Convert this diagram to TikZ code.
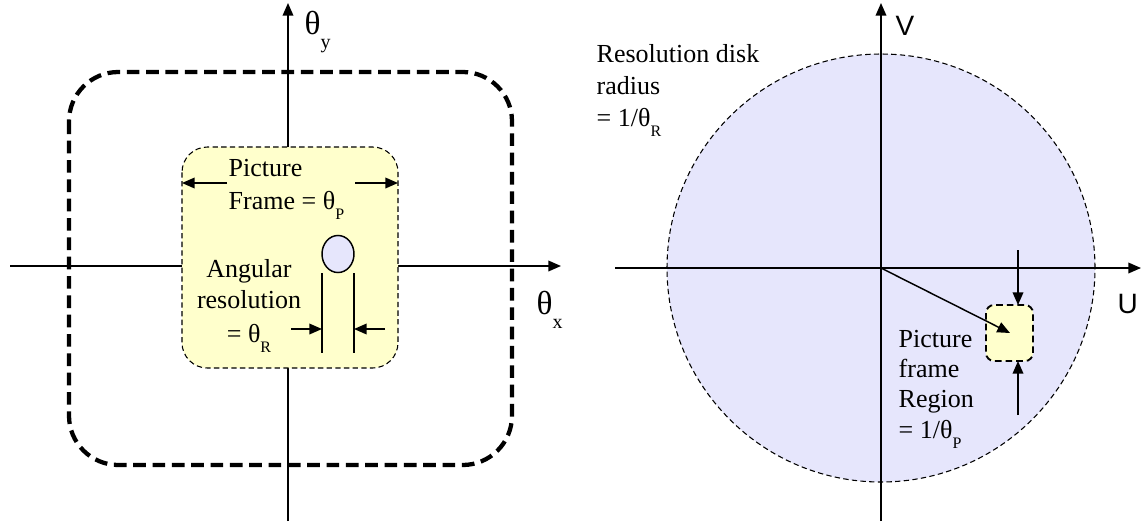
\documentclass[tikz,border=0pt]{standalone}
\usepackage{fontspec}
\setmainfont{Liberation Serif}
\newfontfamily\uvfont{Liberation Sans}
\usetikzlibrary{arrows.meta}
\definecolor{frameyellow}{RGB}{255,255,204}
\definecolor{disklav}{RGB}{230,230,252}
\newcommand{\lowsub}[1]{\raisebox{-0.4em}{\fontsize{12}{12}\selectfont #1}}

\begin{document}
\begin{tikzpicture}[x=0.75pt, y=-0.75pt, line width=1.1pt,
  >={Triangle[length=9.5pt,width=8pt]},
  txt/.style={inner sep=0pt, font=\fontsize{19.5}{25}\selectfont},
  bigth/.style={inner sep=0pt, anchor=base west, font=\fontsize{25}{25}\selectfont},
  uvtxt/.style={inner sep=0pt, anchor=base west, font=\uvfont\fontsize{21}{21}\selectfont},
  bigdash/.style={line width=3.2pt, dash pattern=on 9.5pt off 5pt},
  thindash/.style={line width=0.8pt, dash pattern=on 4pt off 2.5pt}]
\useasboundingbox (0,0) rectangle (1142,529);

% left: sky plane
\coordinate (xl) at (10,266); \coordinate (xr) at (561,266);
\coordinate (yb) at (288,521); \coordinate (yt) at (288,3);
\draw[->] (xl) -- (xr);
\draw[->] (yb) -- (yt);
\draw[bigdash, rounded corners=37pt] (69,72) rectangle (512,465);
\draw[thindash, fill=frameyellow, rounded corners=19pt] (182,147) rectangle (398,368);
\node[bigth] (thy) at (304,34) {θ\raisebox{-11pt}{\fontsize{15}{15}\selectfont y}};
\node[bigth] (thx) at (536,314) {θ\raisebox{-11pt}{\fontsize{15}{15}\selectfont x}};

% picture frame width
\coordinate (pfl) at (182,183); \coordinate (pfla) at (227,183);
\coordinate (pfr) at (398,183); \coordinate (pfra) at (355,183);
\draw[->] (pfla) -- (pfl);
\draw[->] (pfra) -- (pfr);
\node[txt, anchor=base west] (pic1) at (228,176) {Picture};
\node[txt, anchor=base west] (pic2) at (228,209) {Frame = θ\lowsub{P}};

% resolution element
\draw[fill=disklav] (338,254) ellipse [x radius=12pt, y radius=13.9pt];
\coordinate (rl1) at (322,273); \coordinate (rl2) at (322,353);
\coordinate (rr1) at (354,273); \coordinate (rr2) at (354,353);
\draw (rl1) -- (rl2);
\draw (rr1) -- (rr2);
\coordinate (ral) at (291,329); \coordinate (rar) at (385,329);
\draw[->] (ral) -- (rl1 |- ral);
\draw[->] (rar) -- (rr1 |- rar);
\node[txt, anchor=base] (ang1) at (249,277) {Angular};
\node[txt, anchor=base] (ang2) at (249,308) {resolution};
\node[txt, anchor=base] (ang3) at (249,342) {= θ\lowsub{R}};

% right: UV plane
\fill[disklav] (881,268) circle [radius=160.5pt];
\draw[thindash] (881,268) circle [radius=160.5pt];
\coordinate (uo) at (881,268);
\coordinate (ul) at (615,268); \coordinate (ur) at (1141,268);
\coordinate (vb) at (881,521); \coordinate (vt) at (881,3);
\draw[->] (ul) -- (ur);
\draw[->] (vb) -- (vt);
\node[uvtxt] (vlab) at (895,35) {V};
\node[uvtxt] (ulab) at (1117,313) {U};
\node[txt, anchor=base west] (res1) at (596,62) {Resolution disk};
\node[txt, anchor=base west] (res2) at (596,94) {radius};
\node[txt, anchor=base west] (res3) at (596,126) {= 1/θ\lowsub{R}};

% picture frame region
\draw[line width=1.4pt, dash pattern=on 5pt off 3pt, fill=frameyellow, rounded corners=6pt] (986,305) rectangle (1033,361);
\coordinate (pt) at (1018,305); \coordinate (pta) at (1018,250);
\coordinate (pb) at (1018,361); \coordinate (pba) at (1018,415);
\coordinate (pc) at (1010,333);
\draw[->] (pta) -- (pt);
\draw[->] (pba) -- (pb);
\draw[->] (uo) -- (pc);
\node[txt, anchor=base west] (reg1) at (898,347) {Picture};
\node[txt, anchor=base west] (reg2) at (898,377) {frame};
\node[txt, anchor=base west] (reg3) at (898,407) {Region};
\node[txt, anchor=base west] (reg4) at (898,438) {= 1/θ\lowsub{P}};
\end{tikzpicture}
\end{document}
